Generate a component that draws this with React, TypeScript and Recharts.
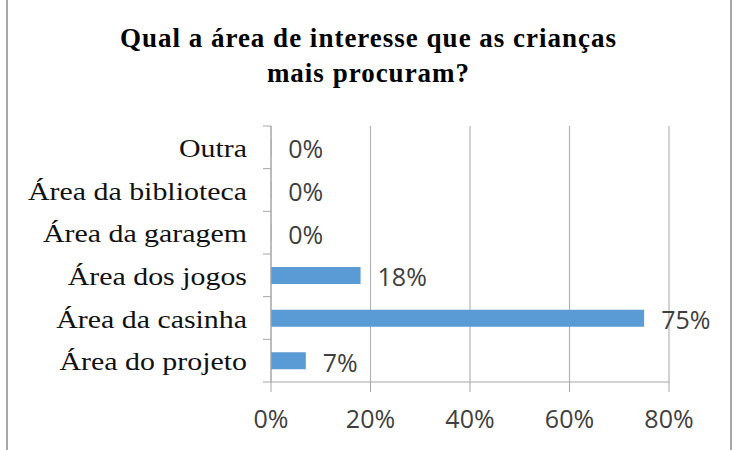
import React from "react";
import {
  BarChart,
  Bar,
  XAxis,
  YAxis,
  CartesianGrid,
  LabelList,
} from "recharts";

const categories = [
  "Outra",
  "Área da biblioteca",
  "Área da garagem",
  "Área dos jogos",
  "Área da casinha",
  "Área do projeto",
];
const shares = [0, 0, 0, 0.18, 0.75, 0.07];
const xTicks = [0, 0.2, 0.4, 0.6, 0.8];

const chartData = categories.map((name, i) => ({
  name,
  share: shares[i],
}));

const pct = (v: number) => `${Math.round(v * 100)}%`;

// layout
const W = 744;
const H = 450;
const M = { top: 126, right: 75, bottom: 8, left: 8 };
const Y_W = 263;
const X_H = 60;
const PLOT_LEFT = M.left + Y_W;
const PLOT_H = H - M.top - M.bottom - X_H;
const BAND = PLOT_H / categories.length;

const axisGray = "#a6a6a6";
const sansFont = "'Open Sans', 'Liberation Sans', sans-serif";

function CategoryTick(props: any) {
  const { x, y, payload, index } = props;
  const last = index === categories.length - 1;
  return (
    <g>
      <line
        x1={PLOT_LEFT}
        x2={PLOT_LEFT - 8}
        y1={y - BAND / 2}
        y2={y - BAND / 2}
        stroke={axisGray}
      />
      {last && (
        <line
          x1={PLOT_LEFT}
          x2={PLOT_LEFT - 8}
          y1={y + BAND / 2}
          y2={y + BAND / 2}
          stroke={axisGray}
        />
      )}
      <text
        x={x}
        y={y}
        dy={1}
        textAnchor="end"
        dominantBaseline="central"
        fontFamily="'Liberation Serif', 'Times New Roman', serif"
        fontSize={26}
        fill="#111"
        transform={`translate(${x},${y}) scale(1.15,1) translate(${-x},${-y})`}
      >
        {payload.value}
      </text>
    </g>
  );
}

export default function App() {
  return (
    <div
      style={{
        position: "absolute",
        left: 0,
        top: 0,
        width: W,
        height: H,
        background: "#fff",
      }}
    >
      <div
        style={{
          position: "absolute",
          left: 6,
          top: 0,
          width: 722,
          height: H,
          borderLeft: "2px solid #a8a8a8",
          borderRight: "2px solid #a8a8a8",
        }}
      />
      <div
        style={{
          position: "absolute",
          left: 0,
          top: 21,
          width: 737,
          textAlign: "center",
          fontFamily: "'Liberation Serif', 'Times New Roman', serif",
          fontWeight: "bold",
          fontSize: 27,
          lineHeight: "35px",
          letterSpacing: 1,
          color: "#000",
        }}
      >
        Qual a área de interesse que as crianças
        <br />
        mais procuram?
      </div>
      <div style={{ position: "absolute", left: 0, top: 0 }}>
        <BarChart
          width={W}
          height={H}
          data={chartData}
          layout="vertical"
          margin={M}
        >
          <CartesianGrid
            horizontal={false}
            stroke="#b4b4b4"
            strokeWidth={1.2}
          />
          <XAxis
            type="number"
            domain={[0, 0.8]}
            ticks={xTicks}
            tickFormatter={pct}
            height={X_H}
            tickSize={10}
            tickMargin={18}
            stroke={axisGray}
            tick={{ fill: "#404040", fontSize: 25, fontFamily: sansFont }}
          />
          <YAxis
            type="category"
            dataKey="name"
            width={Y_W}
            stroke={axisGray}
            tickLine={false}
            tickSize={0}
            tickMargin={24}
            interval={0}
            tick={<CategoryTick />}
          />
          <Bar
            dataKey="share"
            fill="#5b9bd5"
            barSize={17}
            minPointSize={0.3}
            isAnimationActive={false}
          >
            <LabelList
              dataKey="share"
              position="right"
              offset={17}
              formatter={(v: any) => pct(Number(v))}
              fill="#404040"
              fontSize={25}
              fontFamily={sansFont}
              dy={2}
            />
          </Bar>
        </BarChart>
      </div>
    </div>
  );
}
